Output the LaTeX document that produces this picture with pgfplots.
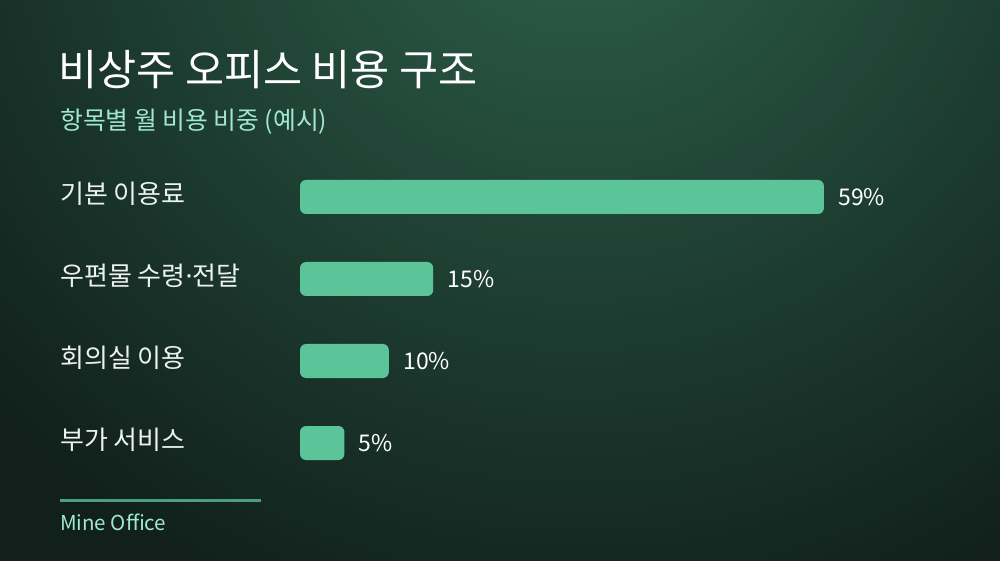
\documentclass[border=0pt]{standalone}
\usepackage{fontspec}
\setmainfont{Noto Sans CJK KR}
\newfontfamily\latinfont{Noto Sans}
\usepackage{pgfplots}
\pgfplotsset{compat=1.18}

\definecolor{bglight}{RGB}{46,98,78}
\definecolor{bgdark}{RGB}{17,32,27}
\definecolor{barcol}{RGB}{92,196,153}
\definecolor{mint}{RGB}{160,232,212}
\definecolor{labelcol}{RGB}{236,242,240}
\definecolor{rulecol}{RGB}{72,160,128}

\begin{document}
\begin{tikzpicture}[x=1pt,y=1pt]
\path[use as bounding box] (0,0) rectangle (1000,560);
% background, a little larger than the page
\begin{scope}
\clip (-5,-5) rectangle (1005,565);
\fill[bgdark] (-5,-5) rectangle (1005,565);
\shade[inner color=bglight, outer color=bgdark] (580,700) circle (800);
\end{scope}

% titles
\node[anchor=west, inner sep=0, text=white, font=\fontsize{42.5}{48}\selectfont] at (58,490) {비상주 오피스 비용 구조};
\node[anchor=west, inner sep=0, text=mint, font=\fontsize{24.8}{29}\selectfont] at (60,438) {항목별 월 비용 비중 (예시)};

% category labels
\begin{scope}[every node/.style={anchor=west, inner sep=0, text=labelcol, font=\fontsize{26}{30}\selectfont}]
\node at (60,366) {기본 이용료};
\node at (60,284) {우편물 수령{\latinfont ·}전달};
\node at (60,202) {회의실 이용};
\node at (60,120) {부가 서비스};
\end{scope}

\begin{axis}[
  at={(300pt,117pt)}, anchor=origin,
  x=8.88pt, y=82pt,
  xmin=0, xmax=60, ymin=-0.5, ymax=3.5,
  hide axis, clip=false,
  /pgf/number format/assume math mode=true,
]
\addplot[xbar, bar width=34pt, draw=none, fill=barcol, rounded corners=6pt,
  nodes near coords={\pgfmathprintnumber{\pgfplotspointmeta}\%},
  every node near coord/.append style={anchor=west, xshift=11pt, text=white,
    font=\fontsize{23}{27}\selectfont, rounded corners=0pt}]
coordinates {
(59,3)
(15,2)
(10,1)
(5,0)
};
\end{axis}

% footer
\draw[rulecol, line width=3pt] (60,60) -- (261,60);
\node[anchor=west, inner sep=0, text=mint, font=\fontsize{20.5}{24}\selectfont] at (60,38) {Mine Office};
\end{tikzpicture}
\end{document}
